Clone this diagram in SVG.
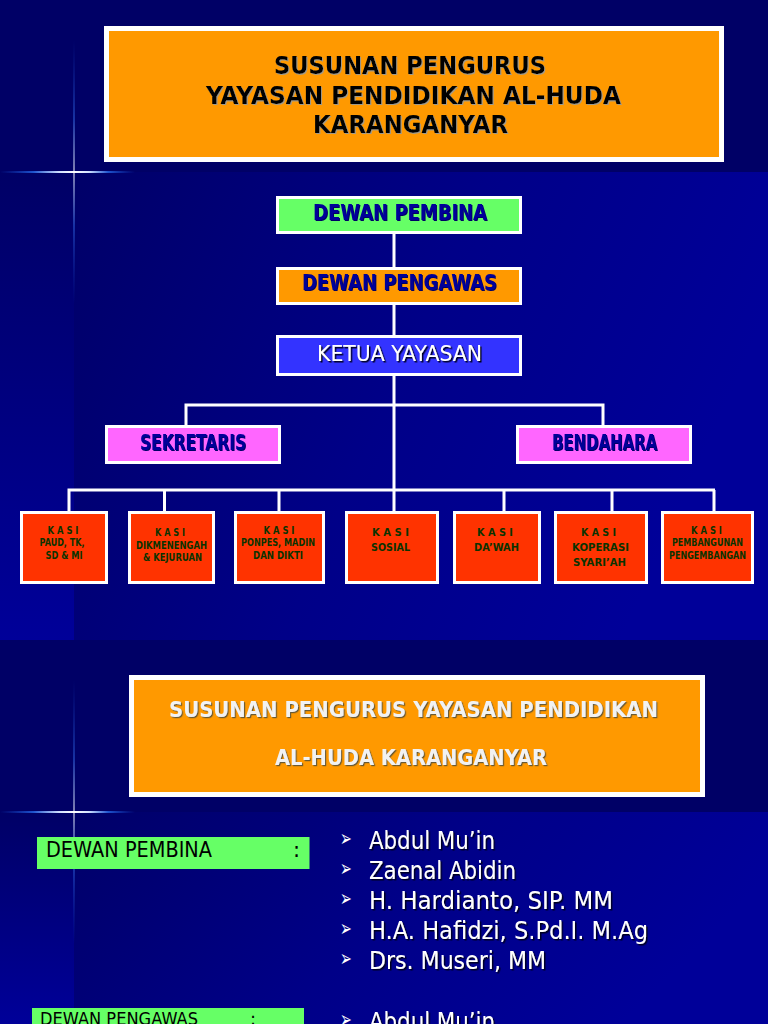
<svg xmlns="http://www.w3.org/2000/svg" width="768" height="1024" viewBox="0 0 768 1024">
<style>
text{font-family:"DejaVu Sans","Liberation Sans",sans-serif}
.box{stroke:#fff}
.o{fill:#f90}.g{fill:#6f6}.m{fill:#f6f}.r{fill:#f30}
.b3{stroke-width:3}.b5{stroke-width:5}
.t{font-weight:bold;fill:#000;font-size:24px;filter:url(#sg)}
.h{font-weight:bold;fill:#000099;font-size:22px;filter:url(#sn)}
.k{font-weight:bold;fill:#0a3300;font-size:10px}
.w{font-weight:bold;fill:#f2f2f2;font-size:21px;filter:url(#sd)}
.u{fill:#fff;font-size:22px;filter:url(#sk)}
.l{fill:#fff;font-size:25px;filter:url(#sk)}
.d{fill:#000;font-size:21px}
.d2{fill:#000;font-size:18px}
.a{fill:#fff;font-size:14px}
#con path{fill:none;stroke:#fff;stroke-width:3}
</style>
<defs>
<linearGradient id="main" x1="0" y1="0" x2="1" y2=".3"><stop offset="0" stop-color="#000068"/><stop offset=".55" stop-color="#000088"/><stop offset="1" stop-color="#000099"/></linearGradient>
<linearGradient id="left" x1="0" y1="0" x2="0" y2="1"><stop offset="0" stop-color="#000066"/><stop offset="1" stop-color="#000099"/></linearGradient>
<linearGradient id="sh" x1="0" y1="0" x2="1" y2="0"><stop offset="0" stop-color="#1040c0" stop-opacity="0"/><stop offset=".25" stop-color="#1f55d0"/><stop offset=".44" stop-color="#cfe0ff"/><stop offset=".55" stop-color="#fff"/><stop offset=".66" stop-color="#cfe0ff"/><stop offset=".8" stop-color="#1f55d0"/><stop offset="1" stop-color="#1040c0" stop-opacity="0"/></linearGradient>
<linearGradient id="sv" x1="0" y1="0" x2="0" y2="1"><stop offset="0" stop-color="#1040c0" stop-opacity="0"/><stop offset=".3" stop-color="#2f65e0"/><stop offset=".5" stop-color="#fff"/><stop offset=".7" stop-color="#2f65e0"/><stop offset="1" stop-color="#1040c0" stop-opacity="0"/></linearGradient>
<filter id="sg" x="-5%" y="-20%" width="110%" height="140%"><feDropShadow dx="1" dy="1" stdDeviation="0" flood-color="#a09a8a"/></filter>
<filter id="sn" x="-5%" y="-20%" width="110%" height="140%"><feDropShadow dx="1" dy="1" stdDeviation="0" flood-color="#000066"/></filter>
<filter id="sd" x="-5%" y="-20%" width="110%" height="140%"><feDropShadow dx="1.200" dy="1.200" stdDeviation="0.200" flood-color="#6b5a30"/></filter>
<filter id="sk" x="-5%" y="-20%" width="110%" height="140%"><feDropShadow dx="1.500" dy="1.500" stdDeviation="0.300" flood-color="#000022"/></filter>
</defs>
<g id="background">
<rect width="768" height="640" fill="#000066"/>
<rect x="0" y="172" width="74" height="468" fill="url(#left)"/>
<rect x="74" y="172" width="694" height="468" fill="url(#main)"/>
<rect x="0" y="171" width="135" height="2" fill="url(#sh)"/>
<rect x="73.500" y="40" width="1" height="264" fill="url(#sv)"/>
<rect y="640" width="768" height="384" fill="#000066"/>
<rect x="0" y="812" width="74" height="212" fill="url(#left)"/>
<rect x="74" y="812" width="694" height="212" fill="url(#main)"/>
<rect x="0" y="811" width="135" height="2" fill="url(#sh)"/>
<rect x="73.500" y="680" width="1" height="264" fill="url(#sv)"/>
</g>
<g id="con">
<path d="M394 234V267M394 305V335M394 376V511M186 425V405H603V425M69 511V490H715M164.500 490V511M279 490V511M504 490V511M612 490V511M714 490V511"/>
</g>
<g id="title1"><rect class="box o b5" x="106.500" y="28.500" width="615" height="131"/>
<text class="t" x="410" y="74" text-anchor="middle" textLength="272" lengthAdjust="spacingAndGlyphs">SUSUNAN PENGURUS</text>
<text class="t" x="413.500" y="104" text-anchor="middle" textLength="415" lengthAdjust="spacingAndGlyphs">YAYASAN PENDIDIKAN AL-HUDA</text>
<text class="t" x="410.500" y="133" text-anchor="middle" textLength="195" lengthAdjust="spacingAndGlyphs">KARANGANYAR</text></g>
<g id="pembina"><rect class="box g b3" x="277.500" y="197.500" width="243" height="35"/><text class="h" x="400" y="220" text-anchor="middle" textLength="174" lengthAdjust="spacingAndGlyphs">DEWAN PEMBINA</text></g>
<g id="pengawas"><rect class="box o b3" x="277.500" y="268.500" width="243" height="35"/><text class="h" x="399.500" y="290" text-anchor="middle" textLength="195" lengthAdjust="spacingAndGlyphs">DEWAN PENGAWAS</text></g>
<g id="ketua"><rect class="box b3" fill="#33f" x="277.500" y="336.500" width="243" height="38"/><text class="u" x="399.500" y="361" text-anchor="middle" textLength="165" lengthAdjust="spacingAndGlyphs">KETUA YAYASAN</text></g>
<g id="sekretaris"><rect class="box m b3" x="106.500" y="426.500" width="173" height="36"/><text class="h" x="193" y="450" text-anchor="middle" textLength="106" lengthAdjust="spacingAndGlyphs">SEKRETARIS</text></g>
<g id="bendahara"><rect class="box m b3" x="517.500" y="426.500" width="173" height="36"/><text class="h" x="604.500" y="450" text-anchor="middle" textLength="105" lengthAdjust="spacingAndGlyphs">BENDAHARA</text></g>
<g id="kasi1"><rect class="box r b3" x="21.500" y="512.500" width="85" height="70"/>
<text class="k" x="63" y="534" text-anchor="middle" textLength="31" lengthAdjust="spacingAndGlyphs">K A S I</text><text class="k" x="62" y="546" text-anchor="middle" textLength="45" lengthAdjust="spacingAndGlyphs">PAUD, TK,</text><text class="k" x="64" y="559" text-anchor="middle" textLength="37" lengthAdjust="spacingAndGlyphs">SD &amp; MI</text></g>
<g id="kasi2"><rect class="box r b3" x="129.500" y="512.500" width="84" height="70"/>
<text class="k" x="170" y="536" text-anchor="middle" textLength="30" lengthAdjust="spacingAndGlyphs">K A S I</text><text class="k" x="171.500" y="549" text-anchor="middle" textLength="71" lengthAdjust="spacingAndGlyphs">DIKMENENGAH</text><text class="k" x="172.500" y="561" text-anchor="middle" textLength="59" lengthAdjust="spacingAndGlyphs">&amp; KEJURUAN</text></g>
<g id="kasi3"><rect class="box r b3" x="235.500" y="512.500" width="88" height="70"/>
<text class="k" x="279" y="534" text-anchor="middle" textLength="31" lengthAdjust="spacingAndGlyphs">K A S I</text><text class="k" x="278" y="546" text-anchor="middle" textLength="74" lengthAdjust="spacingAndGlyphs">PONPES, MADIN</text><text class="k" x="278" y="559" text-anchor="middle" textLength="50" lengthAdjust="spacingAndGlyphs">DAN DIKTI</text></g>
<g id="kasi4"><rect class="box r b3" x="346.500" y="512.500" width="91" height="70"/>
<text class="k" x="390.500" y="536" text-anchor="middle" textLength="37" lengthAdjust="spacingAndGlyphs">K A S I</text><text class="k" x="390.500" y="551" text-anchor="middle" textLength="39" lengthAdjust="spacingAndGlyphs">SOSIAL</text></g>
<g id="kasi5"><rect class="box r b3" x="454.500" y="512.500" width="85" height="70"/>
<text class="k" x="495" y="536" text-anchor="middle" textLength="36" lengthAdjust="spacingAndGlyphs">K A S I</text><text class="k" x="496.500" y="551" text-anchor="middle" textLength="45" lengthAdjust="spacingAndGlyphs">DA’WAH</text></g>
<g id="kasi6"><rect class="box r b3" x="555.500" y="512.500" width="91" height="70"/>
<text class="k" x="598.500" y="536" text-anchor="middle" textLength="35" lengthAdjust="spacingAndGlyphs">K A S I</text><text class="k" x="600.500" y="551" text-anchor="middle" textLength="57" lengthAdjust="spacingAndGlyphs">KOPERASI</text><text class="k" x="599.500" y="566" text-anchor="middle" textLength="53" lengthAdjust="spacingAndGlyphs">SYARI’AH</text></g>
<g id="kasi7"><rect class="box r b3" x="662.500" y="512.500" width="90" height="70"/>
<text class="k" x="706.500" y="534" text-anchor="middle" textLength="31" lengthAdjust="spacingAndGlyphs">K A S I</text><text class="k" x="707.500" y="546" text-anchor="middle" textLength="71" lengthAdjust="spacingAndGlyphs">PEMBANGUNAN</text><text class="k" x="707.500" y="559" text-anchor="middle" textLength="77" lengthAdjust="spacingAndGlyphs">PENGEMBANGAN</text></g>
<g id="title2"><rect class="box o b5" x="131.500" y="677.500" width="571" height="117"/>
<text class="w" x="413.500" y="717" text-anchor="middle" textLength="489" lengthAdjust="spacingAndGlyphs">SUSUNAN PENGURUS YAYASAN PENDIDIKAN</text>
<text class="w" x="411" y="765" text-anchor="middle" textLength="272" lengthAdjust="spacingAndGlyphs">AL-HUDA KARANGANYAR</text></g>
<g id="label1"><rect class="g" x="37" y="837" width="272.500" height="32"/><text class="d" x="46" y="856.500" textLength="166" lengthAdjust="spacingAndGlyphs">DEWAN PEMBINA</text><text class="d" x="293" y="856.500">:</text></g>
<g id="label2"><rect class="g" x="32" y="1008" width="272" height="16"/><text class="d2" x="40" y="1025" textLength="158" lengthAdjust="spacingAndGlyphs">DEWAN PENGAWAS</text><text class="d2" x="250" y="1025">:</text></g>
<g id="list1">
<text class="a" transform="translate(340 845.500) scale(1 1.600)">➢</text><text class="l" x="369" y="848.500" textLength="126" lengthAdjust="spacingAndGlyphs">Abdul Mu’in</text>
<text class="a" transform="translate(340 875.500) scale(1 1.600)">➢</text><text class="l" x="369" y="878.500" textLength="147" lengthAdjust="spacingAndGlyphs">Zaenal Abidin</text>
<text class="a" transform="translate(340 905.500) scale(1 1.600)">➢</text><text class="l" x="369" y="908.500" textLength="244" lengthAdjust="spacingAndGlyphs">H. Hardianto, SIP. MM</text>
<text class="a" transform="translate(340 935.500) scale(1 1.600)">➢</text><text class="l" x="369" y="938.500" textLength="279" lengthAdjust="spacingAndGlyphs">H.A. Hafidzi, S.Pd.I. M.Ag</text>
<text class="a" transform="translate(340 965.500) scale(1 1.600)">➢</text><text class="l" x="369" y="968.500" textLength="177" lengthAdjust="spacingAndGlyphs">Drs. Museri, MM</text>
</g>
<g id="list2"><text class="a" transform="translate(340 1026.500) scale(1 1.600)">➢</text><text class="l" x="369" y="1030" textLength="126" lengthAdjust="spacingAndGlyphs">Abdul Mu’in</text></g>
</svg>
